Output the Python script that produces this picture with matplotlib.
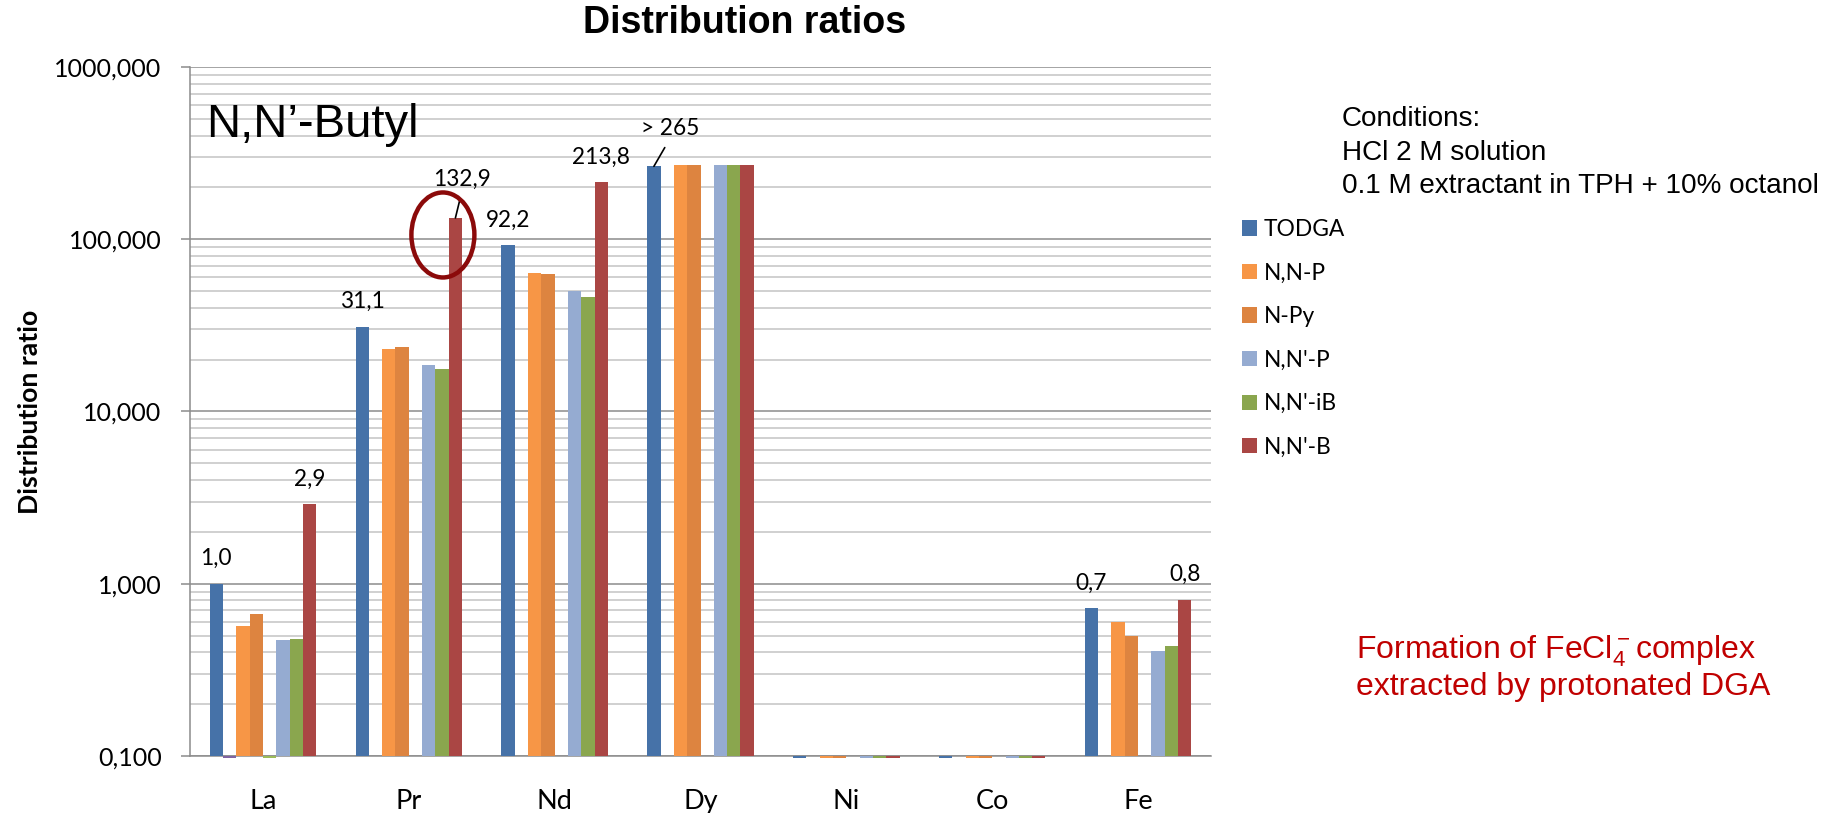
import numpy as np
import matplotlib
matplotlib.use("Agg")
import matplotlib.pyplot as plt
from matplotlib.patches import Ellipse, Patch
from matplotlib.ticker import FixedLocator, FuncFormatter, NullFormatter

plt.rcParams["font.family"] = ["Lato", "DejaVu Sans"]
ARIAL = ["Liberation Sans", "DejaVu Sans"]

elements = ["La", "Pr", "Nd", "Dy", "Ni", "Co", "Fe"]

# 8 bar slots per element, two of them have no legend entry
series_names = ["TODGA", None, "N,N-P", "N-Py", None, "N,N'-P", "N,N'-iB", "N,N'-B"]
series_colors = ["#4672a8", "#8064a2", "#f79646", "#dd8440",
                 "#9bbb59", "#95abd1", "#8aa64e", "#aa4644"]

nan = np.nan
todga = [1.0, 31.1, 92.2, 265, 0.098, 0.098, 0.723]
hidden_1 = [0.098, nan, nan, nan, nan, nan, nan]
nn_p = [0.572, 23.2, 64.0, 270, 0.098, 0.098, 0.596]
n_py = [0.669, 23.6, 63.1, 270, 0.098, 0.098, 0.499]
hidden_2 = [0.098, nan, nan, nan, nan, nan, nan]
nn2_p = [0.472, 18.5, 50.1, 270, 0.098, 0.098, 0.407]
nn2_ib = [0.476, 17.6, 46.4, 270, 0.098, 0.098, 0.437]
nn2_b = [2.9, 132.9, 213.8, 270, 0.098, 0.098, 0.807]
series = [todga, hidden_1, nn_p, n_py, hidden_2, nn2_p, nn2_ib, nn2_b]

# which bars carry a value label (series index, element index)
labelled = [(0, 0), (0, 1), (0, 2), (0, 6), (7, 0), (7, 2), (7, 6)]
leader_labels = [(7, 1, None), (0, 3, "> 265")]

y_ticks = [0.1, 1, 10, 100, 1000]

base = 0.1
width = 0.0913
x = np.arange(len(elements))


def comma(v, decimals=1):
    return f"{v:.{decimals}f}".replace(".", ",")


fig = plt.figure(figsize=(18.34, 8.13), dpi=100)
ax = fig.add_axes([190 / 1834, 1 - 756 / 813, 1021 / 1834, 689 / 813])
ax.set_yscale("log")
ax.set_ylim(0.1, 1000)
ax.set_xlim(-0.5, len(elements) - 0.5)

bar_x = {}
for k, vals in enumerate(series):
    xs = x + (k - 3.5) * width
    v = np.array(vals, dtype=float)
    ax.bar(xs, v - base, bottom=base, width=width, color=series_colors[k],
           linewidth=0, clip_on=False, zorder=3)
    bar_x[k] = xs

# grid
ax.yaxis.set_major_locator(FixedLocator(y_ticks))
minors = [m * d for d in [0.1, 1, 10, 100] for m in range(2, 10)]
ax.yaxis.set_minor_locator(FixedLocator(minors))
ax.yaxis.set_minor_formatter(NullFormatter())
ax.yaxis.set_major_formatter(FuncFormatter(lambda v, p: comma(v, 3)))
ax.grid(which="major", axis="y", color="#8c8c8c", linewidth=1.1, zorder=0)
ax.grid(which="minor", axis="y", color="#c4c4c4", linewidth=1.1, zorder=0)
ax.set_axisbelow(True)
for s in ["top", "right"]:
    ax.spines[s].set_visible(False)
for s in ["left", "bottom"]:
    ax.spines[s].set_color("#8c8c8c")
    ax.spines[s].set_linewidth(1.1)
ax.tick_params(axis="y", which="major", length=6.5, width=1.1, color="#8c8c8c",
               labelsize=18, pad=14)
ax.tick_params(axis="y", which="minor", length=0)
ax.set_xticks(x)
ax.set_xticklabels(elements)
ax.tick_params(axis="x", length=0, labelsize=19.5, pad=24)
ax.set_ylabel("Distribution ratio", fontsize=19.2, fontweight="bold")
ax.yaxis.set_label_coords(-0.145, 0.5)

# value labels
for k, i in labelled:
    v = series[k][i]
    ax.annotate(comma(v), (bar_x[k][i], v), xytext=(0, 18), textcoords="offset points",
                ha="center", va="center", fontsize=16.3)

for k, i, txt in leader_labels:
    v = series[k][i]
    off = (5, 28) if txt is None else (11.5, 27.4)
    ax.annotate(comma(v) if txt is None else txt, (bar_x[k][i], v), xytext=off,
                textcoords="offset points", ha="center", va="center", fontsize=16.3,
                arrowprops=dict(arrowstyle="-", color="black", lw=1.2,
                                relpos=(0.5, 0), shrinkA=5, shrinkB=0))

# highlight ring around the N,N'-B bar for Pr
k, i = 7, 1
cx, cy = ax.transData.transform((bar_x[k][i], series[k][i]))
cx, cy = ax.transAxes.inverted().transform((cx - 12.5, cy - 17))
ax.add_patch(Ellipse((cx, cy), 63 / 1021, 85 / 689, transform=ax.transAxes,
                     fill=False, edgecolor="#8b0a0a", linewidth=3.2, clip_on=False, zorder=5))

# legend
handles = [Patch(facecolor=c, edgecolor="none")
           for n, c in zip(series_names, series_colors) if n]
names = [n for n in series_names if n]
fig.legend(handles, names, loc="upper left", bbox_to_anchor=(1242 / 1834, 1 - 219 / 813),
           frameon=False, fontsize=16.4, handlelength=0.66, handleheight=0.66,
           handletextpad=0.31, labelspacing=0.99, borderpad=0, borderaxespad=0)

fig.text(745 / 1834, 1 - 23 / 813, "Distribution ratios", ha="center", va="center",
         fontsize=27, fontweight="bold", family=ARIAL)
fig.text(206 / 1834, 1 - 125 / 813, "N,N\u2019-Butyl", ha="left", va="center",
         fontsize=34, family=ARIAL)
for j, line in enumerate(["Conditions:", "HCl 2 M solution",
                          "0.1 M extractant in TPH + 10% octanol"]):
    fig.text(1342 / 1834, 1 - (119 + 33.5 * j) / 813, line, ha="left", va="center",
             fontsize=20.1, family=ARIAL)
fig.text(1356 / 1834, 1 - 658 / 813, r"Formation of $\mathregular{FeCl_4^-}$complex",
         ha="left", va="baseline", fontsize=23, color="#c00000", family=ARIAL)
fig.text(1356 / 1834, 1 - 695 / 813, "extracted by protonated DGA",
         ha="left", va="baseline", fontsize=23, color="#c00000", family=ARIAL)

fig.savefig("out.png", dpi=100)
